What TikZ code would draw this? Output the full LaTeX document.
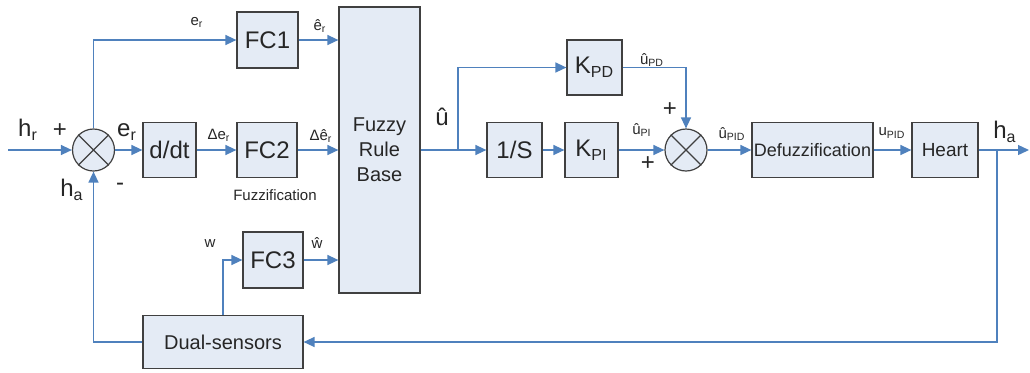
\documentclass[tikz,border=0pt]{standalone}
\usepackage{fontspec}
\setmainfont{Liberation Sans}
\usetikzlibrary{arrows.meta}
\definecolor{linkblue}{HTML}{4F81BD}
\definecolor{boxfill}{HTML}{E4EBF5}
\definecolor{boxline}{HTML}{404040}
\definecolor{labeltext}{HTML}{262626}
\begin{document}
\begin{tikzpicture}[x=0.5pt,y=-0.5pt,
>={Triangle[length=5.5pt,width=5pt]},
every node/.style={text=labeltext},
square/.style={
% The shape:
rectangle,
draw=boxline,
fill=boxfill,
line width=0.6pt,
inner sep=0pt,
font=\fontsize{12}{14}\selectfont
},
summer/.style={
circle,draw=boxline,fill=boxfill,line width=0.6pt,
minimum size=21pt,inner sep=0pt
},
big/.style={font=\fontsize{12}{14}\selectfont,inner sep=0pt},
small/.style={font=\fontsize{7.5}{9}\selectfont,inner sep=0pt},
link/.style={draw=linkblue,line width=0.7pt}
]
\useasboundingbox (0,0) rectangle (1030,372);
% Blocks:
\node (fc1) [square,minimum width=30.5pt,minimum height=28pt] at (267.5,40) {FC1};
\node (ddt) [square,minimum width=26.5pt,minimum height=27.5pt] at (169.5,150) {d/dt};
\node (fc2) [square,minimum width=30pt,minimum height=27.5pt] at (267,150) {FC2};
\node (fc3) [square,minimum width=30pt,minimum height=28pt] at (273,260) {FC3};
\node (rule) [square,minimum width=40.5pt,minimum height=143pt,align=center,
  font=\fontsize{10}{12.5}\selectfont] at (379.5,150) {Fuzzy\\Rule\\Base};
\node (dual) [square,minimum width=80pt,minimum height=26.5pt,
  font=\fontsize{10}{12}\selectfont] at (223,342) {Dual-sensors};
\node (integ) [square,minimum width=27.5pt,minimum height=27.5pt] at (514.5,150) {1/S};
\node (kpi) [square,minimum width=26.5pt,minimum height=27.5pt] at (591.5,150) {K\textsubscript{PI}};
\node (kpd) [square,minimum width=27.5pt,minimum height=27.5pt] at (594.5,67.5) {K\textsubscript{PD}};
\node (defuzz) [square,minimum width=60.5pt,minimum height=27.5pt,
  font=\fontsize{9}{11}\selectfont] at (812.5,150) {Defuzzification};
\node (heart) [square,minimum width=33pt,minimum height=27.5pt,
  font=\fontsize{9.5}{11}\selectfont] at (945,150) {Heart};
\node (sum1) [summer] at (93.5,150) {};
\node (sum2) [summer] at (686,150) {};
\draw [boxline,line width=0.6pt] (sum1.north east) -- (sum1.south west) (sum1.north west) -- (sum1.south east);
\draw [boxline,line width=0.6pt] (sum2.north east) -- (sum2.south west) (sum2.north west) -- (sum2.south east);
% Free ends and branch points:
\coordinate (in) at (8,150);
\coordinate (out) at (1029,150);
\coordinate (ubranch) at (458,150);
\coordinate (habranch) at (997,150);
% Connectors:
\draw [link,->] (in) -- (sum1);
\draw [link,->] (sum1) -- (ddt);
\draw [link,->] (sum1.north) |- (fc1);
\path (ddt) edge[link,->] (fc2);
\draw [link,->] (fc1) -- (fc1 -| rule.west);
\draw [link,->] (fc2) -- (fc2 -| rule.west);
\draw [link,->] (fc3) -- (fc3 -| rule.west);
\draw [link,->] (dual.north -| 223,0) |- (fc3);
\draw [link,->] (dual.west) -| (sum1.south);
\draw [link,->] (rule.east |- integ) -- (integ);
\draw [link,->] (ubranch) |- (kpd);
\path (integ) edge[link,->] (kpi) (kpi) edge[link,->] (sum2);
\draw [link,->] (kpd) -| (sum2.north);
\path (sum2) edge[link,->] (defuzz) (defuzz) edge[link,->] (heart);
\draw [link,->] (heart) -- (out);
\draw [link,->] (habranch) |- (dual.east);
% Labels:
\node (hr) [big] at (28,130) {h\textsubscript{r}};
\node (plusa) [big] at (60,131) {+};
\node (era) [big] at (127,132) {e\textsubscript{r}};
\node (haa) [big] at (72,190) {h\textsubscript{a}};
\node (minus) [big] at (120,187) {-};
\node (erb) [small] at (197,22) {e\textsubscript{r}};
\node (erhat) [small] at (320,26) {ê\textsubscript{r}};
\node (der) [small] at (219,135) {Δe\textsubscript{r}};
\node (derhat) [small] at (321,136) {Δê\textsubscript{r}};
\node (fuzzif) [small] at (275,195) {Fuzzification};
\node (wlab) [small] at (210,244) {w};
\node (whatlab) [small] at (317,243) {ŵ};
\node (uhat) [big] at (442,117) {û};
\node (upd) [small] at (652,60) {û\textsubscript{PD}};
\node (upi) [small] at (642,130) {û\textsubscript{PI}};
\node (plusb) [big] at (648,164) {+};
\node (plusc) [big] at (670,110) {+};
\node (upidhat) [small] at (732,134) {û\textsubscript{PID}};
\node (upid) [small] at (892,133) {u\textsubscript{PID}};
\node (hab) [big] at (1005,132) {h\textsubscript{a}};
\end{tikzpicture}
\end{document}
